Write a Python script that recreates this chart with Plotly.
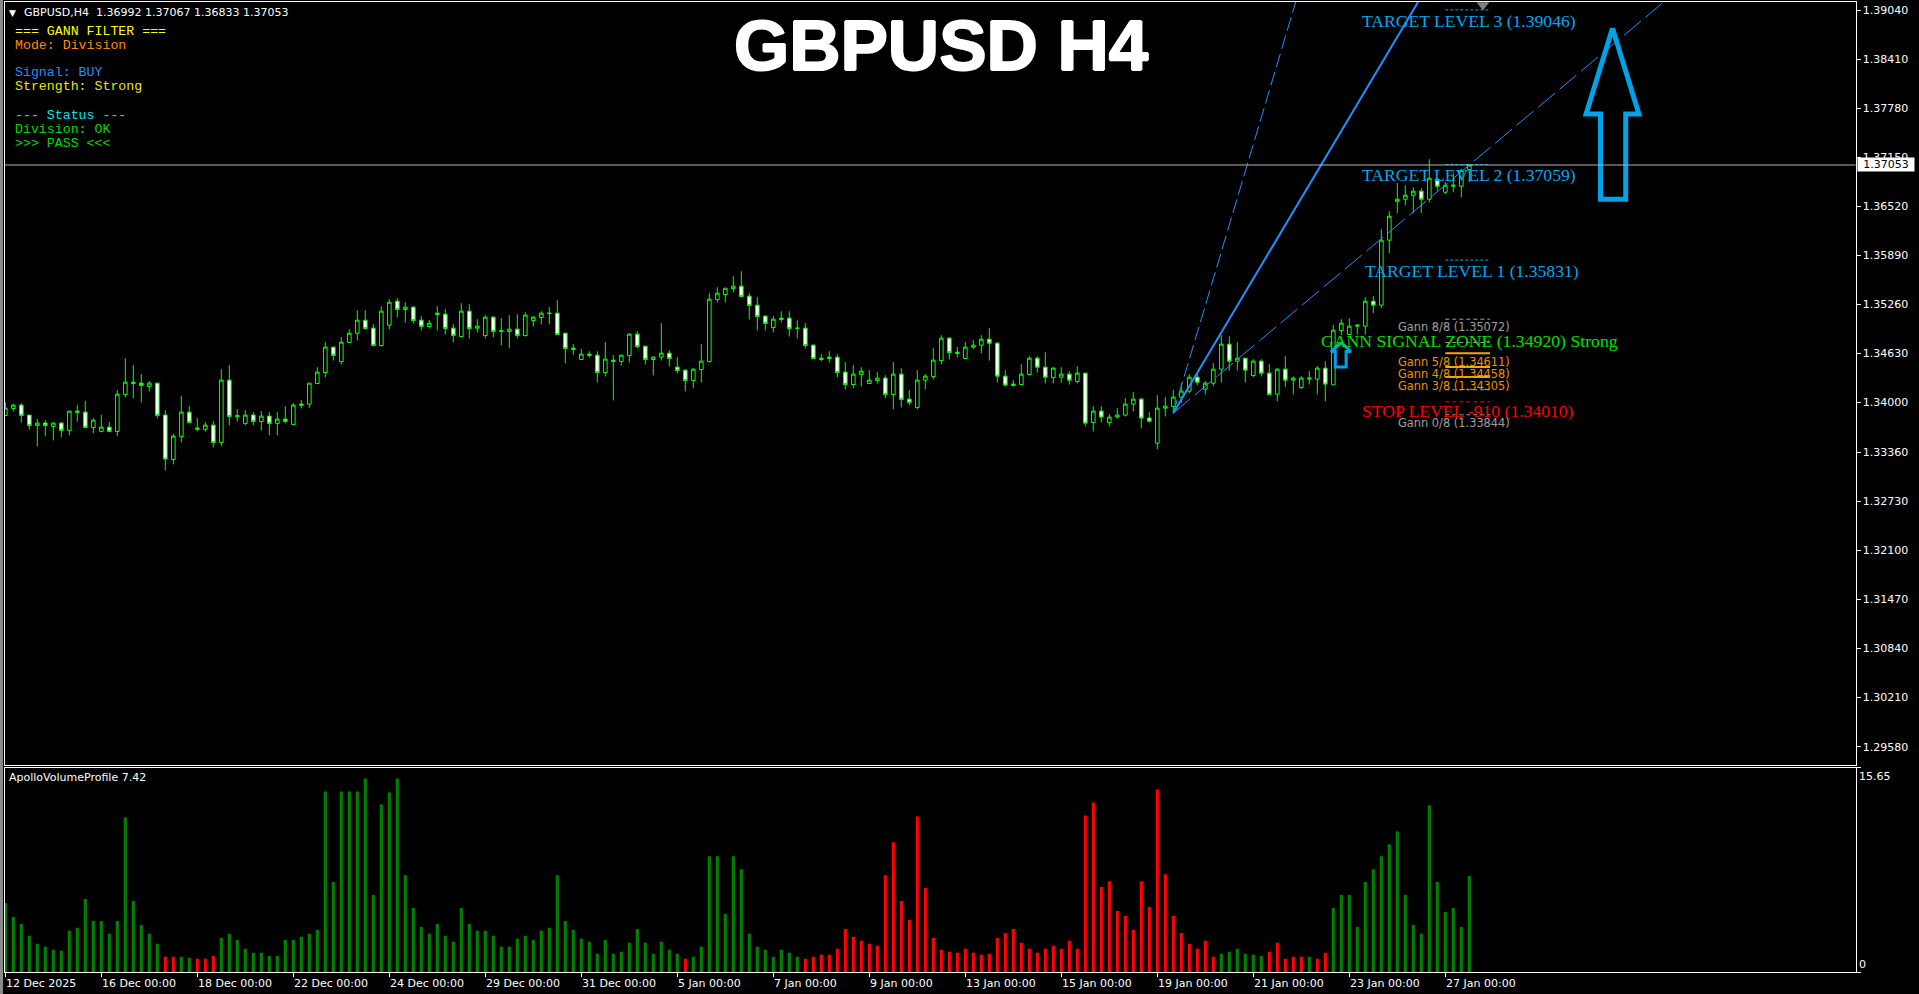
import plotly.graph_objects as go

# Candles (GBPUSD H4)
opens = [1.33835,1.33925,1.33968,1.33840,1.33707,1.33737,1.33694,1.33737,1.33643,1.33874,
1.33878,1.33681,1.33630,1.33685,1.33630,1.34105,1.34246,1.34250,1.34208,1.34250,
1.33840,1.33270,1.33566,1.33878,1.33656,1.33656,1.33711,1.33489,1.34289,1.33818,
1.33733,1.33840,1.33758,1.33827,1.33733,1.33788,1.33720,1.33964,1.33981,1.34246,
1.34387,1.34713,1.34529,1.34773,1.34892,1.35059,1.34957,1.34734,1.34995,1.35303,
1.35196,1.35226,1.35059,1.34978,1.35132,1.35136,1.34957,1.34850,1.35175,1.34957,
1.34862,1.35098,1.34914,1.34914,1.34944,1.34862,1.35055,1.35094,1.35145,1.35149,
1.34892,1.34683,1.34554,1.34606,1.34610,1.34387,1.34529,1.34529,1.34606,1.34880,
1.34725,1.34554,1.34584,1.34636,1.34456,1.34417,1.34285,1.34426,1.34529,1.35325,
1.35389,1.35466,1.35496,1.35368,1.35252,1.35111,1.34965,1.35068,1.35085,1.34952,
1.34957,1.34738,1.34554,1.34567,1.34584,1.34392,1.34233,1.34362,1.34246,1.34285,
1.34315,1.34105,1.34366,1.34045,1.33938,1.34289,1.34336,1.34541,1.34828,1.34631,
1.34567,1.34713,1.34738,1.34815,1.34764,1.34340,1.34220,1.34233,1.34362,1.34571,
1.34456,1.34323,1.34327,1.34366,1.34272,1.34379,1.33745,1.33891,1.33745,1.33814,
1.33840,1.33981,1.34045,1.33801,1.33480,1.33929,1.33951,1.34071,1.34148,1.34327,
1.34173,1.34250,1.34430,1.34751,1.34533,1.34571,1.34349,1.34533,1.34379,1.34109,
1.34430,1.34289,1.34195,1.34302,1.34302,1.34443,1.34229,1.34927,1.34875,1.34982,
1.34982,1.35303,1.35252,1.36087,1.36587,1.36613,1.36664,1.36716,1.36613,1.36870,
1.36703,1.36780,1.36780,1.36992]
closes = [1.33929,1.33968,1.33835,1.33707,1.33737,1.33707,1.33737,1.33643,1.33891,1.33891,
1.33681,1.33775,1.33685,1.33630,1.34109,1.34263,1.34263,1.34220,1.34250,1.33835,
1.33275,1.33570,1.33878,1.33745,1.33673,1.33711,1.33489,1.34289,1.33822,1.33831,
1.33840,1.33758,1.33827,1.33733,1.33788,1.33758,1.33968,1.33981,1.34250,1.34392,
1.34713,1.34606,1.34777,1.34892,1.35059,1.34952,1.34734,1.35175,1.35290,1.35196,
1.35226,1.35055,1.34978,1.35021,1.35149,1.34952,1.34862,1.35175,1.34952,1.34982,
1.35098,1.34914,1.34922,1.34944,1.34862,1.35124,1.35098,1.35149,1.35149,1.34875,
1.34696,1.34700,1.34623,1.34623,1.34387,1.34559,1.34546,1.34610,1.34880,1.34721,
1.34554,1.34584,1.34636,1.34567,1.34413,1.34285,1.34430,1.34533,1.35329,1.35406,
1.35470,1.35496,1.35363,1.35248,1.35106,1.35017,1.35072,1.35085,1.34952,1.34957,
1.34734,1.34567,1.34571,1.34584,1.34387,1.34233,1.34366,1.34404,1.34289,1.34315,
1.34105,1.34366,1.34041,1.34002,1.34289,1.34340,1.34546,1.34828,1.34644,1.34648,
1.34713,1.34738,1.34815,1.34764,1.34340,1.34225,1.34238,1.34366,1.34571,1.34456,
1.34327,1.34443,1.34366,1.34289,1.34379,1.33737,1.33891,1.33814,1.33814,1.33840,
1.33981,1.34045,1.33801,1.33762,1.33929,1.33955,1.34071,1.34148,1.34327,1.34263,
1.34250,1.34430,1.34751,1.34533,1.34571,1.34417,1.34533,1.34379,1.34105,1.34430,
1.34289,1.34315,1.34315,1.34315,1.34443,1.34238,1.34931,1.35021,1.34982,1.34995,
1.35303,1.35252,1.36087,1.36395,1.36613,1.36664,1.36716,1.36613,1.36883,1.36780,
1.36793,1.36793,1.36985,1.37053]
highs = [1.34006,1.33985,1.33994,1.33840,1.33788,1.33775,1.33750,1.33750,1.33891,1.33972,
1.34024,1.33801,1.33844,1.33750,1.34161,1.34571,1.34482,1.34366,1.34276,1.34250,
1.33904,1.33600,1.34088,1.33959,1.33801,1.33750,1.33762,1.34430,1.34482,1.33917,
1.33904,1.33878,1.33891,1.33878,1.33878,1.33955,1.33994,1.34032,1.34250,1.34456,
1.34777,1.34713,1.34841,1.34944,1.35188,1.35188,1.35008,1.35239,1.35329,1.35342,
1.35290,1.35239,1.35111,1.35059,1.35239,1.35201,1.35008,1.35278,1.35265,1.35072,
1.35124,1.35111,1.35085,1.35124,1.35136,1.35162,1.35111,1.35175,1.35226,1.35316,
1.34892,1.34751,1.34691,1.34661,1.34661,1.34777,1.34610,1.34610,1.34892,1.34918,
1.34725,1.34597,1.35021,1.34674,1.34584,1.34430,1.34443,1.34751,1.35406,1.35483,
1.35470,1.35624,1.35688,1.35406,1.35355,1.35124,1.35111,1.35175,1.35175,1.35059,
1.35021,1.34751,1.34623,1.34661,1.34623,1.34520,1.34482,1.34456,1.34417,1.34392,
1.34353,1.34520,1.34443,1.34161,1.34417,1.34366,1.34700,1.34867,1.34841,1.34713,
1.34777,1.34803,1.34867,1.34957,1.34777,1.34417,1.34289,1.34494,1.34597,1.34597,
1.34648,1.34456,1.34456,1.34404,1.34469,1.34379,1.33955,1.33955,1.33852,1.33929,
1.34058,1.34135,1.34058,1.33878,1.34096,1.34071,1.34161,1.34250,1.34366,1.34366,
1.34276,1.34507,1.34867,1.34854,1.34777,1.34571,1.34559,1.34559,1.34494,1.34443,
1.34597,1.34336,1.34340,1.34404,1.34469,1.34533,1.35000,1.35072,1.35085,1.35008,
1.35355,1.35368,1.36228,1.36459,1.36823,1.36793,1.36767,1.36754,1.37127,1.36883,
1.36831,1.36947,1.36998,1.37067]
lows = [1.33835,1.33887,1.33745,1.33651,1.33437,1.33566,1.33514,1.33553,1.33578,1.33754,
1.33668,1.33604,1.33617,1.33617,1.33566,1.34066,1.34054,1.34002,1.34143,1.33797,
1.33129,1.33206,1.33489,1.33733,1.33630,1.33630,1.33424,1.33437,1.33707,1.33758,
1.33707,1.33707,1.33643,1.33578,1.33578,1.33733,1.33720,1.33925,1.33929,1.34246,
1.34323,1.34541,1.34490,1.34773,1.34798,1.34939,1.34721,1.34721,1.34939,1.35094,
1.35029,1.35017,1.34927,1.34952,1.34927,1.34875,1.34773,1.34837,1.34824,1.34901,
1.34824,1.34837,1.34734,1.34696,1.34824,1.34850,1.34978,1.35004,1.35004,1.34875,
1.34503,1.34614,1.34554,1.34580,1.34259,1.34336,1.34028,1.34477,1.34516,1.34696,
1.34490,1.34349,1.34541,1.34464,1.34375,1.34143,1.34182,1.34259,1.34516,1.35286,
1.35286,1.35415,1.35363,1.35068,1.34927,1.34927,1.34901,1.35029,1.34850,1.34824,
1.34696,1.34567,1.34529,1.34516,1.34323,1.34169,1.34182,1.34208,1.34246,1.34246,
1.34054,1.33912,1.33938,1.33964,1.33912,1.34169,1.34298,1.34490,1.34554,1.34580,
1.34559,1.34687,1.34631,1.34541,1.34259,1.34208,1.34208,1.34225,1.34349,1.34387,
1.34246,1.34246,1.34259,1.34233,1.34246,1.33694,1.33630,1.33745,1.33694,1.33797,
1.33822,1.33887,1.33668,1.33745,1.33399,1.33822,1.33865,1.33994,1.34122,1.34225,
1.34105,1.34212,1.34259,1.34413,1.34413,1.34259,1.34327,1.34336,1.34096,1.34015,
1.34199,1.34105,1.34173,1.34233,1.34105,1.34015,1.34225,1.34867,1.34875,1.34875,
1.34875,1.35149,1.35213,1.35920,1.36433,1.36536,1.36433,1.36433,1.36574,1.36724,
1.36677,1.36703,1.36639,1.36833]

# Volume panel
volume = [5.28,4.21,3.68,2.77,2.16,1.93,1.70,1.62,3.15,3.38,
5.58,3.91,3.91,2.92,3.91,11.83,5.43,3.60,2.92,2.16,
1.17,1.17,1.17,1.09,1.02,1.02,1.24,2.61,2.92,2.46,
1.78,1.47,1.47,1.24,1.24,2.46,2.46,2.69,2.92,3.22,
13.81,6.88,13.81,13.81,13.81,14.80,5.89,12.82,13.73,14.80,
7.41,4.90,3.45,2.92,3.68,2.77,2.31,4.90,3.68,3.15,
3.15,2.77,1.93,1.93,2.54,2.77,2.46,3.15,3.38,7.41,
3.91,3.22,2.54,2.31,1.40,2.46,1.40,1.55,2.23,3.30,
2.23,1.40,2.31,1.70,1.40,1.02,1.17,1.93,8.86,8.86,
4.44,8.86,7.87,2.92,1.93,1.70,1.17,1.70,1.47,1.17,
1.02,1.17,1.32,1.32,1.78,3.30,2.69,2.39,2.16,2.01,
7.41,9.92,5.43,3.98,11.90,6.42,2.61,1.70,1.55,1.47,
1.78,1.47,1.32,1.40,2.61,2.99,3.30,2.23,1.78,1.47,
1.78,2.01,1.78,2.39,1.78,11.98,12.97,6.50,6.95,4.67,
4.29,3.22,6.95,4.97,13.96,7.49,4.29,2.99,2.16,1.78,
2.39,1.17,1.40,1.55,1.78,1.40,1.32,1.24,1.55,2.23,
1.02,1.17,1.17,1.17,1.02,1.47,4.90,5.89,5.89,3.45,
6.88,7.87,8.86,9.77,10.76,5.89,3.60,2.92,12.74,6.88,
4.59,4.90,3.45,7.34]
red_bars = [20, 21, 24, 25, 26, 85] + list(range(100, 152)) + [158, 159, 160, 161, 162, 164, 165]

# Axis labels
price_ticks = [1.3904, 1.3841, 1.3778, 1.3715, 1.3652, 1.3589, 1.3526, 1.3463,
               1.3400, 1.3336, 1.3273, 1.3210, 1.3147, 1.3084, 1.3021, 1.2958]
price_labels = ["1.39040", "1.38410", "1.37780", "1.37150", "1.36520", "1.35890", "1.35260", "1.34630",
                "1.34000", "1.33360", "1.32730", "1.32100", "1.31470", "1.30840", "1.30210", "1.29580"]
date_ticks = list(range(0, 181, 12))
date_labels = ["12 Dec 2025", "16 Dec 00:00", "18 Dec 00:00", "22 Dec 00:00", "24 Dec 00:00", "29 Dec 00:00",
               "31 Dec 00:00", "5 Jan 00:00", "7 Jan 00:00", "9 Jan 00:00", "13 Jan 00:00", "15 Jan 00:00",
               "19 Jan 00:00", "21 Jan 00:00", "23 Jan 00:00", "27 Jan 00:00"]

# Gann fan, from the swing low to the top of the window
fan_x0, fan_y0 = 146, 1.33866
fan_top = 1.39147
fan_steep_x = 161.3
fan_solid_x = 176.6
fan_shallow_x = 207.3

# Short level marks: price, colour, dash
level_marks = [
    (1.39046, "#00a8f0", "3px,2px"),
    (1.37059, "#00a8f0", "3px,2px"),
    (1.35831, "#00a8f0", "3px,2px"),
    (1.35072, "#a0a0a0", "4px,3px"),
    (1.34772, "#a0a0a0", "4px,3px"),
    (1.34636, "#ffa500", "solid"),
    (1.34458, "#ffa500", "solid"),
    (1.34328, "#ffa500", "solid"),
    (1.34165, "#a0a0a0", "4px,3px"),
    (1.34010, "#ff0000", "4px,3px"),
    (1.33844, "#a0a0a0", "4px,3px"),
]

# Arrows
big_arrow_x = [200.9, 197.6, 199.4, 199.4, 202.55, 202.55, 204.2, 200.9]
big_arrow_y = [1.38809, 1.37709, 1.37709, 1.36614, 1.36614, 1.37709, 1.37709, 1.38809]
small_arrow_x = [167, 165.7, 166.25, 166.25, 167.6, 167.6, 168.2, 167]
small_arrow_y = [1.34772, 1.34657, 1.34657, 1.34457, 1.34457, 1.34657, 1.34657, 1.34772]

bar_index = list(range(len(opens)))
bar_colors = ["#ff0000" if i in red_bars else "#008000" for i in bar_index]

W, H = 1919, 994
LEFT, RIGHT = 4.5, 1855.5
x_range = [(LEFT - 5.3) / 8, (RIGHT - 5.3) / 8]


def px(x):
    return x / W


def py(y):
    return 1 - y / H


fig = go.Figure()

fig.add_trace(go.Candlestick(
    x=bar_index, open=opens, high=highs, low=lows, close=closes,
    line=dict(width=1), whiskerwidth=0,
    increasing=dict(line=dict(color="#00ff00", width=1), fillcolor="#000000"),
    decreasing=dict(line=dict(color="#00ff00", width=1), fillcolor="#ffffff"),
    xaxis="x", yaxis="y", showlegend=False,
))

fig.add_trace(go.Scatter(x=[fan_x0, fan_steep_x], y=[fan_y0, fan_top], mode="lines",
                         line=dict(color="#1e90ff", width=1, dash="14px,5px"), showlegend=False))
fig.add_trace(go.Scatter(x=[fan_x0, fan_solid_x], y=[fan_y0, fan_top], mode="lines",
                         line=dict(color="#1e90ff", width=2), showlegend=False))
fig.add_trace(go.Scatter(x=[fan_x0, fan_shallow_x], y=[fan_y0, fan_top], mode="lines",
                         line=dict(color="#1e90ff", width=1, dash="22px,6px"), showlegend=False))

for price, color, dash in level_marks:
    fig.add_trace(go.Scatter(x=[180, 185.6], y=[price, price], mode="lines",
                             line=dict(color=color, width=2 if dash == "solid" else 1, dash=dash),
                             showlegend=False))

fig.add_trace(go.Scatter(x=[184.7], y=[1.39108], mode="markers",
                         marker=dict(symbol="triangle-down", size=11, color="#808080"), showlegend=False))

fig.add_trace(go.Scatter(x=big_arrow_x, y=big_arrow_y, mode="lines",
                         line=dict(color="#00a2e8", width=5), showlegend=False))
fig.add_trace(go.Scatter(x=small_arrow_x, y=small_arrow_y, mode="lines",
                         line=dict(color="#00a2e8", width=3), showlegend=False))

fig.add_trace(go.Bar(x=bar_index, y=volume, marker=dict(color=bar_colors, line=dict(width=0)),
                     xaxis="x2", yaxis="y2", showlegend=False))

# Text
notes = []


def note(x, y, text, color, size, family="DejaVu Sans", anchor="left", shadow=None):
    font = dict(color=color, size=size, family=family)
    if shadow:
        font["shadow"] = shadow
    notes.append(dict(x=px(x), y=py(y), xref="paper", yref="paper", text=text, showarrow=False,
                      xanchor=anchor, yanchor="middle", borderpad=0, font=font))


# title is heavier than plain bold in the original
note(941, 45, "<b>GBPUSD H4</b>", "#ffffff", 71, "Liberation Sans", "center",
     shadow="1px 0 0 #fff,-1px 0 0 #fff,0 1px 0 #fff,0 -1px 0 #fff")
note(8, 12.5, "▼", "#ffffff", 9)
note(23, 12.5, "GBPUSD,H4  1.36992 1.37067 1.36833 1.37053", "#ffffff", 11)

panel_lines = [
    (31, "=== GANN FILTER ===", "#ffff00"),
    (45, "Mode: Division", "#ff8c00"),
    (73, "Signal: BUY", "#1e90ff"),
    (87, "Strength: Strong", "#e6e600"),
    (115, "--- Status ---", "#00e5ee"),
    (129, "Division: OK", "#00d800"),
    (143, ">>> PASS <<<", "#00d800"),
]
for y, text, color in panel_lines:
    note(13.5, y, text, color, 13.25, "Liberation Mono")

note(1361, 20.7, "TARGET LEVEL 3 (1.39046)", "#00a8f0", 17.6, "Liberation Serif")
note(1361, 174.7, "TARGET LEVEL 2 (1.37059)", "#00a8f0", 17.6, "Liberation Serif")
note(1364, 270.7, "TARGET LEVEL 1 (1.35831)", "#00a8f0", 17.6, "Liberation Serif")
note(1319.5, 340.7, "GANN SIGNAL ZONE (1.34920) Strong", "#00e000", 17.7, "Liberation Serif")
note(1361, 411, "STOP LEVEL -910 (1.34010)", "#ff0000", 17.6, "Liberation Serif")
note(1396.7, 327.3, "Gann 8/8 (1.35072)", "#a0a0a0", 11.4)
note(1396.7, 362.3, "Gann 5/8 (1.34611)", "#e69500", 11.4)
note(1396.7, 374.3, "Gann 4/8 (1.34458)", "#e69500", 11.4)
note(1396.7, 386.3, "Gann 3/8 (1.34305)", "#e69500", 11.4)
note(1396.7, 422.7, "Gann 0/8 (1.33844)", "#a0a0a0", 11.4)

note(8, 777, "ApolloVolumeProfile 7.42", "#ffffff", 11)
note(1858, 776, "15.65", "#ffffff", 11)
note(1858, 964, "0", "#ffffff", 11)

# MT4 date labels start at the tick rather than centre on it
for tick, label in zip(date_ticks, date_labels):
    notes.append(dict(x=tick, y=py(983), xref="x2", yref="paper", text=label, showarrow=False,
                      xanchor="left", yanchor="middle", borderpad=0,
                      font=dict(color="#ffffff", size=11, family="DejaVu Sans")))

notes.append(dict(x=px(1857), y=1.37053, xref="paper", yref="y", text="1.37053", showarrow=False,
                  xanchor="left", yanchor="middle", bgcolor="#ffffff", width=56, height=13, borderpad=0,
                  font=dict(color="#000000", size=11, family="DejaVu Sans")))

fig.update_layout(
    width=W, height=H,
    margin=dict(l=0, r=0, t=0, b=0),
    paper_bgcolor="#000000", plot_bgcolor="#000000",
    boxgap=0.35, bargap=0.6, hovermode=False,
    annotations=notes,
    shapes=[
        dict(type="line", xref="paper", yref="y", x0=px(LEFT), x1=px(RIGHT), y0=1.37053, y1=1.37053,
             line=dict(color="#b4b4b4", width=1)),
        dict(type="rect", xref="paper", yref="paper", x0=0, x1=px(3), y0=0, y1=1,
             fillcolor="#8a8a8a", line=dict(width=0)),
    ],
    xaxis=dict(domain=[px(LEFT), px(RIGHT)], range=x_range, rangeslider=dict(visible=False),
               showgrid=False, zeroline=False, showticklabels=False, ticks="",
               showline=True, linecolor="#ffffff", linewidth=1, mirror=True, anchor="y"),
    yaxis=dict(domain=[py(764.5), py(2)], range=[1.29351, 1.39147], side="right",
               tickmode="array", tickvals=price_ticks, ticktext=price_labels,
               showgrid=False, zeroline=False, ticks="outside", ticklen=4, tickcolor="#ffffff",
               tickfont=dict(color="#ffffff", size=11, family="DejaVu Sans"),
               showline=True, linecolor="#ffffff", linewidth=1, mirror=True, anchor="x"),
    xaxis2=dict(domain=[px(LEFT), px(RIGHT)], range=x_range,
                tickmode="array", tickvals=date_ticks, showticklabels=False,
                showgrid=False, zeroline=False, ticks="outside", ticklen=4, tickcolor="#ffffff",
                showline=True, linecolor="#ffffff", linewidth=1, mirror=True, anchor="y2"),
    yaxis2=dict(domain=[py(972), py(767.5)], range=[0, 15.65], side="right",
                tickmode="array", tickvals=[0, 15.65], showticklabels=False,
                showgrid=False, zeroline=False, ticks="outside", ticklen=4, tickcolor="#ffffff",
                showline=True, linecolor="#ffffff", linewidth=1, mirror=True, anchor="x2"),
)

# the default page margin would push the 1919x994 figure off the window
fig.write_html("out.html", config={"displayModeBar": False},
               post_script="document.body.style.margin='0';document.body.style.background='#000';")
